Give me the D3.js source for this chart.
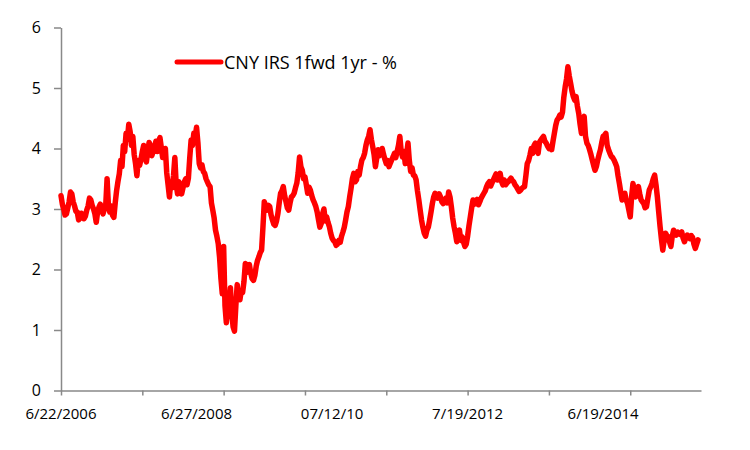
<!DOCTYPE html>
<html>
<head>
<meta charset="utf-8">
<script src="https://cdn.jsdelivr.net/npm/d3@7"></script>
<style>
  html, body { margin: 0; padding: 0; background: #fff; }
  svg { display: block; font-family: "Open Sans", sans-serif; }
</style>
</head>
<body>
<div id="chart"></div>
<script>
// CNY IRS 1fwd 1yr — daily fixings drawn on a category (observation-count) axis,
// the way the spreadsheet laid it out: ticks every 300 obs, labels every 500.

// one reading every 5 observations
const obsStep  = 5;
const obsCount = 2362;
const rate = [
  // 2006 – mid 2007
  3.22, 3.08, 3.00, 2.90, 2.92, 3.02, 3.12, 3.28, 3.25, 3.12,
  3.05, 2.96, 2.95, 2.82, 2.85, 2.93, 2.90, 2.84, 2.88, 2.98,
  3.05, 3.18, 3.15, 3.06, 3.00, 2.92, 2.78, 2.95, 3.03, 3.08,
  2.98, 2.92, 3.00, 3.06, 3.50, 3.05, 2.95, 3.05, 2.90, 2.86,
  3.10,
  // 2007 – mid 2008
  3.30, 3.45, 3.58, 3.80, 3.70, 4.05, 3.95, 4.25, 4.15, 4.40,
  4.28, 4.05, 4.20, 3.90, 3.75, 3.55, 3.80, 3.72, 3.82, 3.95,
  4.05, 3.85, 3.78, 3.95, 4.10, 4.05, 3.88, 3.95, 4.02, 4.12,
  3.95, 4.12, 4.18, 4.02, 3.85, 3.92, 4.00, 3.60, 3.40, 3.20,
  3.45, 3.35, 3.55, 3.85, 3.40, 3.25, 3.45, 3.35, 3.25, 3.35,
  3.45, 3.50, 3.40, 3.51, 3.85,
  // 2008 peak and crash
  4.14, 4.05, 4.25, 4.20, 4.35, 4.10, 3.75, 3.68, 3.73, 3.62,
  3.59, 3.50, 3.45, 3.40, 3.37, 3.10, 2.98, 2.85, 2.65, 2.55,
  2.43, 2.20, 1.85, 1.60, 2.38, 1.40, 1.12, 1.35, 1.45, 1.70,
  1.28, 1.05, 0.98, 1.40, 1.75, 1.55, 1.50, 1.65, 1.62, 1.80,
  2.10, 1.95, 2.02, 2.08, 1.94, 1.85, 1.82, 1.90, 2.05, 2.15,
  2.21, 2.28, 2.32, 2.70,
  // 2009
  3.12, 3.05, 2.98, 3.06, 3.04, 2.90, 2.82, 2.75, 2.73, 2.80,
  2.92, 3.10, 3.26, 3.30, 3.37, 3.22, 3.12, 3.02, 2.98, 3.10,
  3.20, 3.22, 3.26, 3.35, 3.43, 3.60, 3.86, 3.70, 3.64, 3.50,
  3.53, 3.40, 3.26, 3.36, 3.31, 3.22, 3.15,
  // 2010 – 2012
  3.10, 3.04, 2.95, 2.82, 2.70, 2.76, 2.92, 3.00, 2.80, 2.87,
  2.78, 2.71, 2.60, 2.52, 2.48, 2.46, 2.40, 2.42, 2.48, 2.45,
  2.55, 2.62, 2.70, 2.82, 2.95, 3.04, 3.20, 3.34, 3.50, 3.59,
  3.45, 3.48, 3.62, 3.56, 3.70, 3.81, 3.85, 3.92, 4.05, 4.14,
  4.20, 4.31, 4.15, 4.03, 3.90, 3.70, 3.85, 3.98, 3.88, 3.92,
  4.00, 3.90, 3.82, 3.75, 3.80, 3.70, 3.76, 3.81, 3.86, 3.92,
  3.85, 3.95, 4.05, 4.20, 3.95, 3.86, 3.95, 3.75, 3.90, 4.09,
  3.80, 3.62, 3.68, 3.56, 3.55, 3.48, 3.30, 3.15, 2.98, 2.82,
  2.70, 2.60, 2.55, 2.65, 2.70, 2.82, 2.95, 3.09, 3.20, 3.26,
  3.22, 3.18,
  // 2012 – 2013
  3.25, 3.20, 3.12, 3.09, 3.15, 3.18, 3.10, 3.28, 3.20, 3.04,
  2.85, 2.71, 2.60, 2.46, 2.58, 2.65, 2.48, 2.54, 2.45, 2.38,
  2.42, 2.55, 2.72, 2.87, 3.02, 3.15, 3.08, 3.12, 3.16, 3.07,
  3.12, 3.18, 3.22, 3.26, 3.30, 3.37, 3.42, 3.45, 3.38, 3.43,
  3.48, 3.53, 3.58, 3.48, 3.50, 3.59, 3.46, 3.40, 3.48, 3.40,
  3.43, 3.45, 3.48, 3.51, 3.47, 3.45, 3.40, 3.37, 3.33, 3.29,
  3.31, 3.34, 3.36, 3.37, 3.55, 3.75, 3.80, 3.89, 4.00, 3.92,
  4.05, 4.09, 4.00, 3.92, 4.10, 4.14, 4.17, 4.20, 4.12, 4.09,
  4.04, 4.00, 4.02, 3.98, 4.12, 4.25, 4.38, 4.47, 4.50, 4.55,
  4.52, 4.60, 4.85,
  // late 2013 – 2015
  5.02, 5.15, 5.35, 5.20, 5.08, 4.95, 4.86, 4.80, 4.86, 4.70,
  4.58, 4.40, 4.25, 4.45, 4.53, 4.20, 4.09, 4.05, 3.98, 3.90,
  3.81, 3.72, 3.64, 3.70, 3.81, 3.90, 3.98, 4.10, 4.20, 4.22,
  4.25, 4.05, 3.98, 3.92, 3.87, 3.85, 3.81, 3.76, 3.70, 3.55,
  3.42, 3.28, 3.15, 3.22, 3.26, 3.15, 3.09, 2.98, 2.87, 3.20,
  3.42, 3.30, 3.20, 3.30, 3.37, 3.25, 3.15, 3.12, 3.09, 3.02,
  3.04, 3.18, 3.31, 3.36, 3.42, 3.50, 3.56, 3.40, 3.20, 2.95,
  2.71, 2.50, 2.32, 2.48, 2.60, 2.56, 2.54, 2.45, 2.38, 2.55,
  2.65, 2.60, 2.57, 2.62, 2.60, 2.58, 2.62, 2.52, 2.46, 2.52,
  2.57, 2.54, 2.51, 2.56, 2.53, 2.42, 2.35, 2.42, 2.49
];

const tickEvery  = 300;
const labelEvery = 500;
const dateLabels = ['6/22/2006', '6/27/2008', '07/12/10', '7/19/2012', '6/19/2014'];
const yTicks     = [0, 1, 2, 3, 4, 5, 6];
const seriesName = 'CNY IRS 1fwd 1yr - %';

const W = 750, H = 450;
const margin = { top: 27.5, right: 49, bottom: 59.5, left: 61 };
const axisGrey = '#898989';
const lineRed  = '#ff0000';

const svg = d3.select('#chart').append('svg')
  .attr('width', W).attr('height', H);

const x = d3.scaleLinear()
  .domain([0, obsCount - 1])
  .range([margin.left, W - margin.right]);

const y = d3.scaleLinear()
  .domain([0, 6])
  .range([H - margin.bottom, margin.top]);

// y axis
const gy = svg.append('g')
  .attr('transform', `translate(${margin.left},0)`)
  .call(d3.axisLeft(y).tickValues(yTicks).tickFormat(d3.format('d'))
    .tickSize(7).tickSizeOuter(0).tickPadding(13));
gy.select('.domain').attr('stroke', axisGrey).attr('stroke-width', 1.5);
gy.selectAll('.tick line').attr('stroke', axisGrey).attr('stroke-width', 1.5);
gy.selectAll('.tick text')
  .attr('fill', '#000').attr('font-size', 16).attr('font-family', '"Open Sans", sans-serif');

// x axis: tick marks only, labels placed separately on their own interval
const tickObs = d3.range(0, obsCount, tickEvery);
const gx = svg.append('g')
  .attr('transform', `translate(0,${y(0)})`)
  .call(d3.axisBottom(x).tickValues(tickObs).tickSize(5).tickSizeOuter(0).tickFormat(''));
gx.select('.domain').attr('stroke', axisGrey).attr('stroke-width', 1.5);
gx.selectAll('.tick line').attr('stroke', axisGrey).attr('stroke-width', 1.5);

svg.append('g')
  .selectAll('text')
  .data(dateLabels)
  .join('text')
  .attr('x', (d, i) => x(i * labelEvery))
  .attr('y', y(0) + 28)
  .attr('text-anchor', 'middle')
  .attr('font-size', 15)
  .attr('fill', '#000')
  .text(d => d);

// series
const line = d3.line()
  .x((d, i) => x(i * obsStep))
  .y(d => y(d));

svg.append('path')
  .datum(rate)
  .attr('fill', 'none')
  .attr('stroke', lineRed)
  .attr('stroke-width', 5.5)
  .attr('stroke-linejoin', 'round')
  .attr('stroke-linecap', 'round')
  .attr('d', line);

// legend
const lg = svg.append('g').attr('transform', 'translate(177,62)');
lg.append('line')
  .attr('x1', 0).attr('x2', 44)
  .attr('stroke', lineRed).attr('stroke-width', 5).attr('stroke-linecap', 'round');
lg.append('text')
  .attr('x', 47).attr('y', 7)
  .attr('font-size', 18)
  .attr('fill', '#000')
  .text(seriesName);
</script>
</body>
</html>
